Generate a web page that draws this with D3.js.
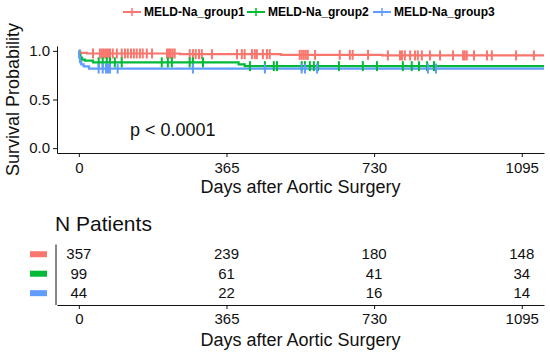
<!DOCTYPE html>
<html>
<head>
<meta charset="utf-8">
<script src="https://cdn.jsdelivr.net/npm/d3@7"></script>
<style>
  body { margin: 0; background: #fff; }
  text { font-family: "Liberation Sans", Arial, sans-serif; }
</style>
</head>
<body>
<div id="chart"></div>
<script>
// Groups and colours
const groups = ["MELD-Na_group1", "MELD-Na_group2", "MELD-Na_group3"];
const colors = ["#F8766D", "#00BA38", "#619CFF"];

// Kaplan-Meier steps (time in days, survival after that time)
const g1Times = [0, 3, 20, 250, 500, 750];
const g1Surv = [1.0, 0.98, 0.973, 0.966, 0.959, 0.953];
const g2Times = [0, 1, 4, 8, 15, 35, 395, 410];
const g2Surv = [1.0, 0.96, 0.93, 0.91, 0.899, 0.882, 0.862, 0.843];
const g3Times = [0, 1, 3, 6, 12, 25];
const g3Surv = [1.0, 0.93, 0.885, 0.862, 0.84, 0.818];
const lastDay = 1150;

// Censored observations (days)
const g1Censor = [35, 52, 57, 62, 67, 72, 77, 84, 94, 106, 114, 121, 129, 136, 143, 151, 158, 168, 181,
  218, 223, 227, 232, 237, 274, 282, 289, 297, 304, 329, 391, 403, 410, 428, 435, 440, 455, 465, 472,
  546, 551, 556, 561, 566, 584, 645, 670, 677, 715, 764, 794, 799, 806, 819, 831, 838, 848, 868, 893,
  925, 950, 954, 959, 977, 1009, 1021, 1081, 1125];
const g2Censor = [49, 59, 69, 77, 89, 106, 205, 220, 230, 274, 282, 307, 423, 460, 482, 490, 551, 559,
  571, 581, 591, 643, 702, 737, 801, 823, 841, 861, 878];
const g3Censor = [49, 59, 67, 72, 77, 96, 282, 460, 551, 559, 589, 863, 883];

// Number at risk table
const riskTimes = [0, 365, 730, 1095];
const riskG1 = [357, 239, 180, 148];
const riskG2 = [99, 61, 41, 34];
const riskG3 = [44, 22, 16, 14];

const yTicks = [0, 0.5, 1.0];
const pLabel = "p < 0.0001";
const xTitle = "Days after Aortic Surgery";
const yTitle = "Survival Probability";
const tableTitle = "N Patients";

const series = [
  { times: g1Times, surv: g1Surv, censor: g1Censor, risk: riskG1 },
  { times: g2Times, surv: g2Surv, censor: g2Censor, risk: riskG2 },
  { times: g3Times, surv: g3Surv, censor: g3Censor, risk: riskG3 }
];

const width = 550, height = 352;
const svg = d3.select("#chart").append("svg")
  .attr("width", width)
  .attr("height", height);

// Scales
const x = d3.scaleLinear().domain([-54, 1150]).range([57, 544]);
const y = d3.scaleLinear().domain([-0.05, 1.05]).range([153, 46]);

// Axes of the survival plot
const yAxis = svg.append("g")
  .attr("transform", `translate(${x.range()[0]},0)`)
  .call(d3.axisLeft(y).tickValues(yTicks).tickFormat(d3.format(".1f")).tickSize(4).tickSizeOuter(0).tickPadding(3));
const xAxis = svg.append("g")
  .attr("transform", `translate(0,${y.range()[0]})`)
  .call(d3.axisBottom(x).tickValues(riskTimes).tickFormat(d3.format("d")).tickSize(4).tickSizeOuter(0).tickPadding(5));
[yAxis, xAxis].forEach(a => {
  a.selectAll("text").style("font-size", "15px").attr("fill", "#111");
  a.selectAll("line, path").attr("stroke", "#111");
});

// Survival curves
const line = d3.line()
  .x(d => x(d[0]))
  .y(d => y(d[1]))
  .curve(d3.curveStepAfter);

series.forEach((s, i) => {
  const pts = s.times.map((t, j) => [t, s.surv[j]]);
  pts.push([lastDay, s.surv[s.surv.length - 1]]);
  svg.append("path")
    .datum(pts)
    .attr("fill", "none")
    .attr("stroke", colors[i])
    .attr("stroke-width", 2.2)
    .attr("d", line);
});

// Censor marks
series.forEach((s, i) => {
  const survAt = t => s.surv[d3.bisectRight(s.times, t) - 1];
  svg.append("g").selectAll("line")
    .data(s.censor)
    .enter().append("line")
    .attr("x1", d => x(d))
    .attr("x2", d => x(d))
    .attr("y1", d => y(survAt(d)) - 5)
    .attr("y2", d => y(survAt(d)) + 5)
    .attr("stroke", colors[i])
    .attr("stroke-width", 2);
});

// p value
svg.append("text")
  .attr("x", 130)
  .attr("y", 136)
  .style("font-size", "18px")
  .attr("fill", "#111")
  .text(pLabel);

// Axis titles
svg.append("text")
  .attr("x", (x.range()[0] + x.range()[1]) / 2)
  .attr("y", 193)
  .attr("text-anchor", "middle")
  .style("font-size", "18px")
  .attr("fill", "#111")
  .text(xTitle);

svg.append("text")
  .attr("transform", `translate(19,${(y.range()[0] + y.range()[1]) / 2}) rotate(-90)`)
  .attr("text-anchor", "middle")
  .style("font-size", "18px")
  .attr("fill", "#111")
  .text(yTitle);

// Legend
const legendX = [123, 247, 373];
const legend = svg.append("g").selectAll("g")
  .data(groups)
  .enter().append("g")
  .attr("transform", (d, i) => `translate(${legendX[i]},12)`);
legend.append("line")
  .attr("x1", 0).attr("x2", 18)
  .attr("stroke", (d, i) => colors[i])
  .attr("stroke-width", 2);
legend.append("line")
  .attr("x1", 9).attr("x2", 9).attr("y1", -4).attr("y2", 4)
  .attr("stroke", (d, i) => colors[i])
  .attr("stroke-width", 1.5);
legend.append("text")
  .attr("x", 21)
  .attr("dy", "0.35em")
  .style("font-size", "12px")
  .style("font-weight", "bold")
  .text(d => d);

// Risk table
svg.append("text")
  .attr("x", 55)
  .attr("y", 231)
  .style("font-size", "21px")
  .attr("fill", "#111")
  .text(tableTitle);

const tableY = d3.scaleBand().domain(groups).range([244.5, 302.9]);
const tableAxisY = 305;

svg.append("line")
  .attr("x1", x.range()[0] - 1).attr("x2", x.range()[0] - 1)
  .attr("y1", tableY.range()[0]).attr("y2", tableAxisY)
  .attr("stroke", "#111");

const tableAxis = svg.append("g")
  .attr("transform", `translate(0,${tableAxisY})`)
  .call(d3.axisBottom(x).tickValues(riskTimes).tickFormat(d3.format("d")).tickSize(4).tickSizeOuter(0).tickPadding(4));
tableAxis.selectAll("text").style("font-size", "15px").attr("fill", "#111");
tableAxis.selectAll("line, path").attr("stroke", "#111");

// colour keys on the left of the table
svg.append("g").selectAll("rect")
  .data(groups)
  .enter().append("rect")
  .attr("x", 30)
  .attr("y", d => tableY(d) + tableY.bandwidth() / 2 - 3)
  .attr("width", 17)
  .attr("height", 6)
  .attr("fill", (d, i) => colors[i]);

series.forEach((s, i) => {
  svg.append("g").selectAll("text")
    .data(s.risk)
    .enter().append("text")
    .attr("x", (d, j) => x(riskTimes[j]))
    .attr("y", tableY(groups[i]) + tableY.bandwidth() / 2)
    .attr("dy", "0.35em")
    .attr("text-anchor", "middle")
    .style("font-size", "15px")
    .attr("fill", "#111")
    .text(d => d);
});

svg.append("text")
  .attr("x", (x.range()[0] + x.range()[1]) / 2)
  .attr("y", 346)
  .attr("text-anchor", "middle")
  .style("font-size", "18px")
  .attr("fill", "#111")
  .text(xTitle);
</script>
</body>
</html>
